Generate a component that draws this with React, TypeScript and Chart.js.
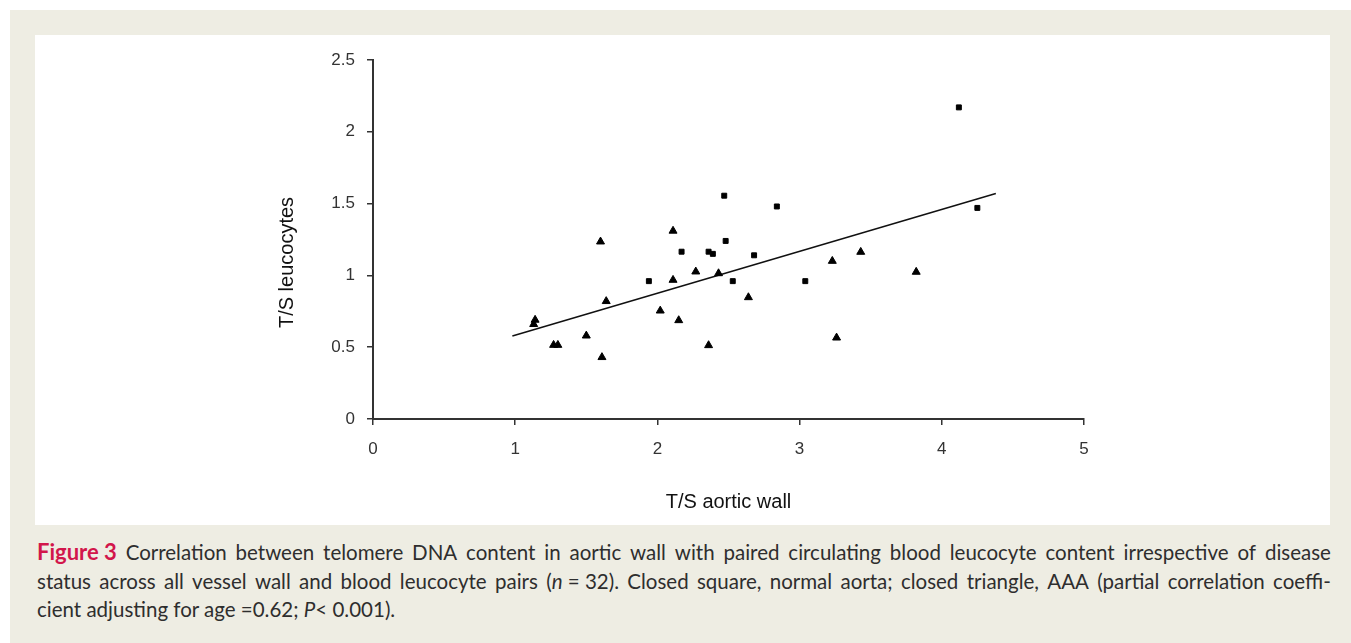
import React, { useEffect, useRef } from "react";
import { Chart, registerables } from "chart.js";

Chart.register(...registerables);

// Normal aorta (closed squares)
const normalX = [1.94, 2.17, 2.36, 2.39, 2.48, 2.47, 2.53, 2.68, 2.84, 3.04, 4.12, 4.25];
const normalY = [0.96, 1.165, 1.165, 1.15, 1.24, 1.555, 0.96, 1.14, 1.48, 0.96, 2.17, 1.47];

// AAA (closed triangles)
const aaaX = [1.13, 1.14, 1.27, 1.3, 1.5, 1.6, 1.61, 1.64, 2.02, 2.11, 2.11, 2.15, 2.27, 2.36, 2.43, 2.64, 3.23, 3.26, 3.43, 3.82];
const aaaY = [0.66, 0.69, 0.515, 0.515, 0.58, 1.235, 0.43, 0.82, 0.754, 1.31, 0.968, 0.687, 1.026, 0.513, 1.014, 0.847, 1.1, 0.566, 1.163, 1.024];

// Regression line end points
const trendX = [0.98, 4.38];
const trendY = [0.578, 1.57];

const xTicks = [0, 1, 2, 3, 4, 5];
const yTicks = [0, 0.5, 1, 1.5, 2, 2.5];
const yTickLabels = ["0", "0.5", "1", "1.5", "2", "2.5"];
const xTickLabels = ["0", "1", "2", "3", "4", "5"];

const xTitle = "T/S aortic wall";
const yTitle = "T/S leucocytes";

const zip = (xs: number[], ys: number[]) => xs.map((x, i) => ({ x, y: ys[i] }));

const FONT = "'Liberation Sans', Arial, sans-serif";

// Draws the vertical axis title, sitting a little below the plot's middle as in the original.
const yTitlePlugin = {
  id: "yTitlePlugin",
  afterDraw(chart: any) {
    const { ctx, chartArea, scales } = chart;
    const ys = scales.y;
    const cx = ys.left + 16;
    const cy = (chartArea.top + chartArea.bottom) / 2 + 23;
    ctx.save();
    ctx.translate(cx, cy);
    ctx.rotate(-Math.PI / 2);
    ctx.font = `20px ${FONT}`;
    ctx.fillStyle = "#111";
    ctx.textAlign = "center";
    ctx.textBaseline = "middle";
    ctx.fillText(yTitle, 0, 0);
    ctx.restore();
  },
};

export default function App() {
  const ref = useRef<HTMLCanvasElement | null>(null);

  useEffect(() => {
    if (!ref.current) return;
    const axisColor = "#333333";
    const tickFont = { family: FONT, size: 17 };
    const titleFont = { family: FONT, size: 20 };
    const chart = new Chart(ref.current, {
      type: "scatter",
      data: {
        datasets: [
          {
            label: "Normal aorta",
            data: zip(normalX, normalY),
            pointStyle: "rect",
            pointRadius: 3.5,
            pointBorderWidth: 1,
            backgroundColor: "#000",
            borderColor: "#000",
            clip: false,
          },
          {
            label: "AAA",
            data: zip(aaaX, aaaY),
            pointStyle: "triangle",
            pointRadius: 4.6,
            pointBorderWidth: 1,
            backgroundColor: "#000",
            borderColor: "#000",
            clip: false,
          },
          {
            label: "Fit",
            type: "line",
            data: zip(trendX, trendY),
            showLine: true,
            pointRadius: 0,
            borderColor: "#111",
            borderWidth: 1.5,
            fill: false,
          } as any,
        ],
      },
      options: {
        animation: false,
        responsive: false,
        events: [],
        layout: { padding: { left: 236, right: 246, top: 25, bottom: 7 } },
        plugins: { legend: { display: false }, tooltip: { enabled: false } },
        scales: {
          x: {
            type: "linear",
            min: 0,
            max: 5,
            afterFit: (s: any) => {
              s.height = 99;
            },
            afterBuildTicks: (s: any) => {
              s.ticks = xTicks.map((v) => ({ value: v }));
            },
            grid: { drawOnChartArea: false, drawTicks: true, tickLength: 6, color: axisColor, lineWidth: 1.5 },
            border: { display: true, color: axisColor, width: 2 },
            ticks: {
              color: axisColor,
              font: tickFont,
              padding: 14,
              callback: (_v: any, i: number) => xTickLabels[i],
            },
            title: { display: true, text: xTitle, color: "#111", font: titleFont, padding: 4 },
          },
          y: {
            type: "linear",
            min: 0,
            max: 2.5,
            afterFit: (s: any) => {
              s.width = 102;
            },
            afterBuildTicks: (s: any) => {
              s.ticks = yTicks.map((v) => ({ value: v }));
            },
            grid: { drawOnChartArea: false, drawTicks: true, tickLength: 6, color: axisColor, lineWidth: 1.5 },
            border: { display: true, color: axisColor, width: 2 },
            ticks: {
              color: axisColor,
              font: tickFont,
              padding: 12,
              callback: (_v: any, i: number) => yTickLabels[i],
            },
            title: { display: false, text: yTitle },
          },
        },
      },
      plugins: [yTitlePlugin],
    });
    return () => chart.destroy();
  }, []);

  const captionFont = "Lato, 'Open Sans', sans-serif";
  const row: React.CSSProperties = { display: "flex", justifyContent: "space-between", height: 28.5, whiteSpace: "nowrap" };

  return (
    <div style={{ position: "fixed", left: 0, top: 0, width: 1351, height: 643, background: "#fff", overflow: "hidden" }}>
      <div style={{ position: "absolute", left: 10, top: 10, width: 1341, height: 633, background: "#EEEDE3" }} />
      <div style={{ position: "absolute", left: 35, top: 35, width: 1295, height: 490, background: "#fff" }}>
        <canvas ref={ref} width={1295} height={490} style={{ display: "block", width: 1295, height: 490 }} />
      </div>
      <div
        style={{
          position: "absolute",
          left: 37,
          top: 538,
          width: 1294,
          fontFamily: captionFont,
          fontSize: 20.5,
          lineHeight: "28.5px",
          color: "#2e2e2e",
        }}
      >
        <div style={row}>
          <span>
            <b style={{ color: "#D2164B", fontWeight: 700, fontSize: 22 }}>Figure 3</b>
          </span>
          {"Correlation between telomere DNA content in aortic wall with paired circulating blood leucocyte content irrespective of disease"
            .split(" ")
            .map((w, i) => (
              <span key={i}>{w}</span>
            ))}
        </div>
        <div style={row}>
          {["status", "across", "all", "vessel", "wall", "and", "blood", "leucocyte", "pairs"].map((w, i) => (
            <span key={i}>{w}</span>
          ))}
          <span>
            (<i>n</i> = 32).
          </span>
          {["Closed", "square,", "normal", "aorta;", "closed", "triangle,", "AAA", "(partial", "correlation", "coeffi-"].map(
            (w, i) => (
              <span key={"b" + i}>{w}</span>
            )
          )}
        </div>
        <div style={{ height: 28.5, whiteSpace: "nowrap" }}>
          cient adjusting for age =0.62; <i>P</i>&lt; 0.001).
        </div>
      </div>
    </div>
  );
}
